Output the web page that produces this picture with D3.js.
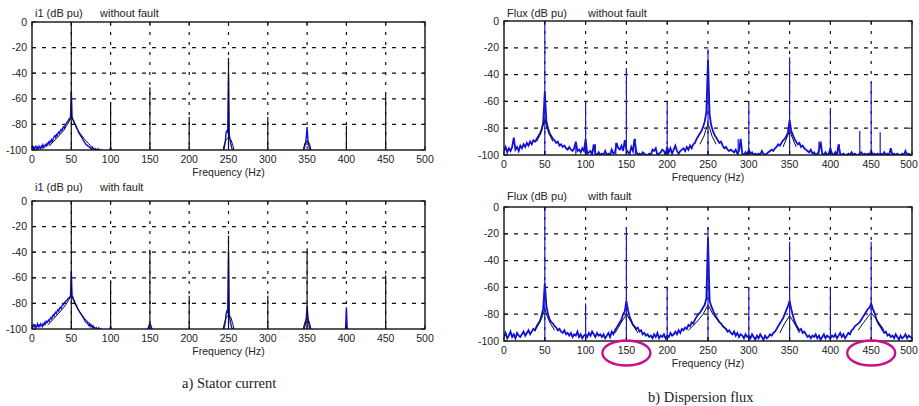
<!DOCTYPE html>
<html>
<head>
<meta charset="utf-8">
<script src="https://cdn.jsdelivr.net/npm/d3@7"></script>
<style>
  body { margin: 0; background: #fff; }
  svg { display: block; font-family: Arial, "Liberation Sans", sans-serif; }
  .tick-label { font-size: 10.5px; fill: #222; }
  .title { font-size: 11px; fill: #222; }
  .caption { font-family: "Liberation Serif", "Times New Roman", serif; font-size: 14.5px; fill: #222; }
</style>
</head>
<body>
<svg id="chart" width="919" height="406"></svg>
<script>
// axis ticks
var freqTicks = [0, 50, 100, 150, 200, 250, 300, 350, 400, 450, 500];
var dbTicks = [0, -20, -40, -60, -80, -100];

// ---- a) stator current, without fault ----
var i1NoFaultSpikes = [[50, 0], [100, -63], [150, -51], [200, -74], [250, -28], [300, -74], [400, -81], [450, -57]];
// blue spectrum, segments of 1 Hz bins: [start freq, values]
var i1NoFaultBlue = [
  [0, [-96, -99, -97, -100, -98, -97, -99, -98, -100, -97,
       -98, -99, -97, -98, -96, -98, -97, -96, -97, -95,
       -96, -94, -95, -93, -94, -92, -93, -91, -90, -89,
       -90, -88, -89, -87, -86, -87, -85, -84, -85, -83,
       -82, -83, -81, -80, -79, -78, -77, -76, -76, -74,
       -54, -74, -76, -77, -79, -80, -81, -83, -84, -86,
       -87, -88, -89, -90, -91, -92, -93, -94, -95, -96,
       -96, -97, -97, -98, -98, -99, -99, -98, -100, -99,
       -100, -99, -100, -100, -99, -100, -100, -100, -100, -100]],
  [99, [-100, -98, -100]],
  [244, [-100, -97, -93, -86, -85, -86, -41, -88, -92, -95, -98, -100]],
  [346, [-100, -97, -95, -90, -82, -92, -96, -99, -100]]
];
var i1NoFaultSkirts = [
  [[22, -97], [28, -93], [34, -89], [40, -85], [44, -81], [47, -78], [49, -75], [50, -74], [51, -75], [53, -78], [56, -82], [60, -86], [66, -91], [72, -95], [78, -99]],
  [[243, -100], [245, -95], [247, -92], [250, -90], [253, -92], [255, -95], [257, -100]],
  [[345, -100], [347, -95], [349, -93], [351, -93], [353, -95], [355, -100]]
];

// ---- a) stator current, with fault ----
var i1FaultSpikes = [[50, 0], [100, -62], [150, -38], [200, -74], [250, -27], [300, -74], [350, -37], [450, -58]];
var i1FaultBlue = [
  [0, [-97, -99, -96, -98, -97, -99, -98, -96, -98, -97,
       -98, -96, -97, -98, -96, -97, -95, -96, -94, -95,
       -94, -93, -94, -92, -91, -92, -90, -89, -90, -88,
       -87, -88, -86, -85, -86, -84, -83, -84, -82, -81,
       -81, -80, -79, -78, -78, -77, -76, -76, -75, -74,
       -55, -74, -75, -77, -78, -80, -81, -82, -84, -85,
       -86, -87, -88, -89, -90, -91, -92, -93, -94, -95,
       -95, -96, -97, -96, -98, -97, -98, -99, -98, -99,
       -99, -100, -99, -100, -100, -99, -100, -100, -100, -100]],
  [99, [-100, -98, -100]],
  [147, [-100, -99, -97, -96, -97, -99, -100]],
  [244, [-100, -98, -94, -88, -86, -87, -40, -88, -93, -96, -99, -100]],
  [346, [-100, -98, -96, -91, -82, -90, -95, -99, -100]],
  [398, [-100, -99, -83, -99, -100]]
];
var i1FaultSkirts = [
  [[20, -97], [26, -93], [32, -89], [38, -85], [43, -81], [46, -78], [49, -75], [50, -74], [51, -75], [53, -78], [56, -82], [60, -86], [66, -91], [72, -95], [80, -99]],
  [[243, -100], [245, -95], [247, -91], [250, -89], [253, -91], [255, -95], [257, -100]],
  [[345, -100], [347, -95], [349, -92], [351, -92], [353, -95], [355, -100]]
];

// ---- b) dispersion flux, without fault (2 Hz bins from 0 Hz) ----
var fluxNoFaultSpikes = [[50, 0], [88, -91], [100, -61], [112, -92], [137, -91], [150, -35], [161, -88], [200, -62], [250, -21],
  [287, -88], [300, -62], [350, -27], [386, -90], [400, -65], [411, -92], [436, -82], [450, -46], [461, -83]];
var fluxNoFaultBlue = [
  -97, -94, -98, -95, -97, -94, -87, -96, -94, -97,
  -93, -95, -92, -94, -91, -93, -90, -92, -89, -90,
  -88, -86, -84, -81, -76, -53, -75, -80, -84, -86,
  -88, -89, -91, -90, -93, -92, -94, -93, -95, -96,
  -94, -96, -97, -95, -90, -97, -96, -98, -95, -97,
  -88, -99, -98, -97, -100, -92, -99, -100, -98, -100,
  -99, -100, -97, -100, -99, -100, -96, -99, -98, -91,
  -95, -96, -93, -97, -89, -96, -98, -99, -94, -97,
  -88, -97, -100, -99, -100, -98, -99, -100, -100, -99,
  -100, -96, -97, -95, -100, -99, -98, -96, -97, -100,
  -94, -98, -95, -99, -96, -93, -97, -99, -97, -96,
  -95, -97, -94, -96, -93, -95, -92, -91, -88, -86,
  -84, -82, -79, -75, -68, -29, -70, -78, -82, -85,
  -87, -89, -91, -90, -93, -95, -94, -96, -97, -96,
  -97, -98, -96, -99, -97, -88, -99, -100, -98, -100,
  -96, -99, -98, -100, -99, -100, -99, -100, -97, -99,
  -100, -99, -98, -97, -96, -97, -95, -94, -92, -93,
  -91, -89, -88, -86, -83, -74, -82, -85, -88, -90,
  -92, -91, -94, -93, -95, -96, -97, -98, -96, -99,
  -98, -100, -99, -97, -90, -99, -100, -98, -100, -99,
  -95, -99, -100, -98, -100, -92, -99, -100, -99, -100,
  -100, -99, -100, -98, -100, -99, -100, -100, -99, -98,
  -100, -99, -100, -99, -100, -97, -100, -99, -100, -99,
  -100, -99, -100, -98, -100, -99, -100, -95, -100, -99,
  -100, -99, -100, -100, -99, -100, -97, -100, -99, -100,
  -100];
var fluxNoFaultSkirts = [
  [[40, -90], [45, -84], [48, -78], [50, -73], [52, -78], [55, -84], [60, -90]],
  [[240, -92], [245, -86], [248, -80], [250, -77], [252, -80], [255, -86], [260, -92]],
  [[342, -94], [346, -88], [348, -85], [350, -82], [352, -85], [354, -88], [358, -94]]
];

// ---- b) dispersion flux, with fault (2 Hz bins from 0 Hz) ----
var fluxFaultSpikes = [[50, 0], [100, -72], [150, -15], [200, -61], [250, -15], [300, -61], [350, -26], [400, -61], [450, -26]];
var fluxFaultBlue = [
  -97, -94, -98, -96, -93, -97, -95, -98, -94, -96,
  -97, -95, -93, -96, -94, -92, -95, -93, -91, -92,
  -89, -87, -85, -81, -76, -57, -74, -80, -84, -86,
  -87, -89, -90, -92, -91, -93, -94, -92, -95, -94,
  -96, -94, -97, -95, -96, -93, -97, -95, -98, -96,
  -95, -97, -94, -96, -93, -95, -97, -94, -96, -95,
  -97, -95, -98, -96, -94, -97, -93, -95, -92, -90,
  -88, -86, -84, -80, -78, -70, -77, -82, -85, -88,
  -89, -91, -90, -93, -92, -95, -94, -96, -95, -97,
  -96, -98, -95, -97, -94, -98, -96, -97, -95, -98,
  -96, -97, -94, -96, -95, -93, -95, -92, -94, -91,
  -92, -90, -91, -88, -89, -86, -87, -84, -82, -80,
  -79, -77, -75, -73, -68, -23, -70, -74, -77, -80,
  -82, -84, -86, -87, -89, -90, -91, -93, -92, -94,
  -95, -93, -96, -94, -97, -95, -96, -98, -95, -97,
  -96, -98, -95, -97, -99, -96, -98, -95, -97, -99,
  -96, -98, -97, -95, -96, -94, -93, -91, -89, -87,
  -85, -83, -80, -77, -74, -70, -76, -81, -85, -88,
  -90, -92, -91, -94, -93, -95, -97, -96, -98, -96,
  -97, -95, -98, -96, -99, -97, -95, -98, -96, -97,
  -98, -96, -97, -95, -98, -96, -94, -97, -95, -98,
  -96, -94, -95, -92, -91, -89, -88, -87, -86, -84,
  -82, -80, -78, -76, -75, -72, -76, -79, -83, -86,
  -88, -90, -92, -94, -93, -96, -95, -97, -96, -98,
  -95, -97, -99, -96, -98, -97, -95, -98, -96, -97,
  -98];
var fluxFaultSkirts = [
  [[38, -92], [44, -86], [48, -80], [50, -76], [52, -80], [56, -86], [62, -92]],
  [[136, -94], [142, -88], [147, -83], [150, -80], [153, -83], [158, -88], [164, -94]],
  [[226, -92], [236, -86], [244, -80], [250, -73], [256, -80], [264, -86], [274, -92]],
  [[338, -94], [343, -88], [347, -84], [350, -81], [353, -84], [357, -88], [362, -94]],
  [[434, -92], [441, -86], [446, -82], [450, -79], [454, -82], [459, -86], [466, -92]]
];

var panels = [
  { left: 32, top: 22, width: 393, height: 128, quantity: "i1 (dB pu)", state: "without fault", stateDx: 68, titleY: 17,
    blue: i1NoFaultBlue, binHz: 1, traceWidth: 1.4, spikes: i1NoFaultSpikes, spikeColor: "#111", skirts: i1NoFaultSkirts },
  { left: 32, top: 201, width: 393, height: 128, quantity: "i1 (dB pu)", state: "with fault", stateDx: 68, titleY: 191,
    blue: i1FaultBlue, binHz: 1, traceWidth: 1.4, spikes: i1FaultSpikes, spikeColor: "#111", skirts: i1FaultSkirts },
  { left: 504, top: 21, width: 408, height: 134, quantity: "Flux (dB pu)", state: "without fault", stateDx: 84, titleY: 17,
    blue: [[0, fluxNoFaultBlue]], binHz: 2, traceWidth: 1.8, spikes: fluxNoFaultSpikes, spikeColor: "#1c1cc8", skirts: fluxNoFaultSkirts },
  { left: 504, top: 207, width: 408, height: 134, quantity: "Flux (dB pu)", state: "with fault", stateDx: 84, titleY: 200,
    blue: [[0, fluxFaultBlue]], binHz: 2, traceWidth: 1.8, spikes: fluxFaultSpikes, spikeColor: "#1c1cc8", skirts: fluxFaultSkirts }
];

var svg = d3.select("#chart");

panels.forEach(function(p, idx) {
  var x = d3.scaleLinear().domain([0, 500]).range([0, p.width]);
  var y = d3.scaleLinear().domain([-100, 0]).range([p.height, 0]);

  var g = svg.append("g")
      .attr("transform", "translate(" + p.left + "," + p.top + ")");

  g.append("clipPath")
      .attr("id", "clip" + idx)
      .append("rect")
      .attr("width", p.width)
      .attr("height", p.height);

  // dotted grid
  g.selectAll(".hgrid")
      .data(dbTicks.slice(1, -1))
      .enter().append("line")
      .attr("x1", 0).attr("x2", p.width)
      .attr("y1", function(d) { return y(d); })
      .attr("y2", function(d) { return y(d); })
      .style("stroke", "#111")
      .style("stroke-width", 1.2)
      .style("stroke-dasharray", "4,6");

  g.selectAll(".vgrid")
      .data(freqTicks.slice(1, -1))
      .enter().append("line")
      .attr("x1", function(d) { return x(d); })
      .attr("x2", function(d) { return x(d); })
      .attr("y1", 0).attr("y2", p.height)
      .style("stroke", "#111")
      .style("stroke-width", 1.2)
      .style("stroke-dasharray", "3,7");

  var data = g.append("g").attr("clip-path", "url(#clip" + idx + ")");

  // blue spectrum
  var line = d3.line()
      .x(function(d) { return x(d[0]); })
      .y(function(d) { return y(d[1]); });

  p.blue.forEach(function(seg) {
    var pts = seg[1].map(function(v, i) { return [seg[0] + i * p.binHz, v]; });
    data.append("path")
        .datum(pts)
        .attr("d", line)
        .style("fill", "none")
        .style("stroke", "#1010d8")
        .style("stroke-width", p.traceWidth)
        .style("stroke-linejoin", "miter");
  });

  // black envelopes around the harmonics
  p.skirts.forEach(function(s) {
    data.append("path")
        .datum(s)
        .attr("d", line)
        .style("fill", "none")
        .style("stroke", "#111")
        .style("stroke-width", 1);
  });

  // harmonic spikes
  data.selectAll(".spike")
      .data(p.spikes)
      .enter().append("line")
      .attr("x1", function(d) { return x(d[0]); })
      .attr("x2", function(d) { return x(d[0]); })
      .attr("y1", y(-100))
      .attr("y2", function(d) { return y(d[1]); })
      .style("stroke", p.spikeColor)
      .style("stroke-width", 1.2);

  // frame
  g.append("rect")
      .attr("width", p.width)
      .attr("height", p.height)
      .style("fill", "none")
      .style("stroke", "#111")
      .style("stroke-width", 1.4);

  // inner ticks
  freqTicks.forEach(function(f) {
    g.append("line").attr("x1", x(f)).attr("x2", x(f)).attr("y1", 0).attr("y2", 4).style("stroke", "#111");
    g.append("line").attr("x1", x(f)).attr("x2", x(f)).attr("y1", p.height).attr("y2", p.height - 4).style("stroke", "#111");
  });
  dbTicks.forEach(function(v) {
    g.append("line").attr("x1", 0).attr("x2", 4).attr("y1", y(v)).attr("y2", y(v)).style("stroke", "#111");
    g.append("line").attr("x1", p.width).attr("x2", p.width - 4).attr("y1", y(v)).attr("y2", y(v)).style("stroke", "#111");
  });

  // tick labels (the last one is kept inside the page edge)
  g.selectAll(".xl")
      .data(freqTicks)
      .enter().append("text")
      .attr("class", "tick-label")
      .attr("x", function(d) { return Math.min(x(d), 919 - p.left - 10); })
      .attr("y", p.height + 13)
      .attr("text-anchor", "middle")
      .text(function(d) { return d; });

  g.selectAll(".yl")
      .data(dbTicks)
      .enter().append("text")
      .attr("class", "tick-label")
      .attr("x", -5)
      .attr("y", function(d) { return y(d); })
      .attr("dy", "0.35em")
      .attr("text-anchor", "end")
      .text(function(d) { return d; });

  g.append("text")
      .attr("class", "tick-label")
      .attr("x", p.width / 2)
      .attr("y", p.height + 26)
      .attr("text-anchor", "middle")
      .text("Frequency (Hz)");

  // titles above the plot
  svg.append("text")
      .attr("class", "title")
      .attr("x", p.left + 3)
      .attr("y", p.titleY)
      .text(p.quantity);
  svg.append("text")
      .attr("class", "title")
      .attr("x", p.left + p.stateDx)
      .attr("y", p.titleY)
      .text(p.state);
});

// highlighted frequencies in the faulty flux spectrum
var highlighted = [150, 450];
var fluxX = d3.scaleLinear().domain([0, 500]).range([panels[3].left, panels[3].left + panels[3].width]);
svg.selectAll(".mark")
    .data(highlighted)
    .enter().append("ellipse")
    .attr("cx", function(d) { return fluxX(d); })
    .attr("cy", panels[3].top + panels[3].height + 12)
    .attr("rx", 24)
    .attr("ry", 12.5)
    .style("fill", "none")
    .style("stroke", "#c8108c")
    .style("stroke-width", 2.4);

// captions
svg.append("text").attr("class", "caption").attr("x", 182).attr("y", 388).text("a) Stator current");
svg.append("text").attr("class", "caption").attr("x", 648).attr("y", 402).text("b) Dispersion flux");
</script>
</body>
</html>
